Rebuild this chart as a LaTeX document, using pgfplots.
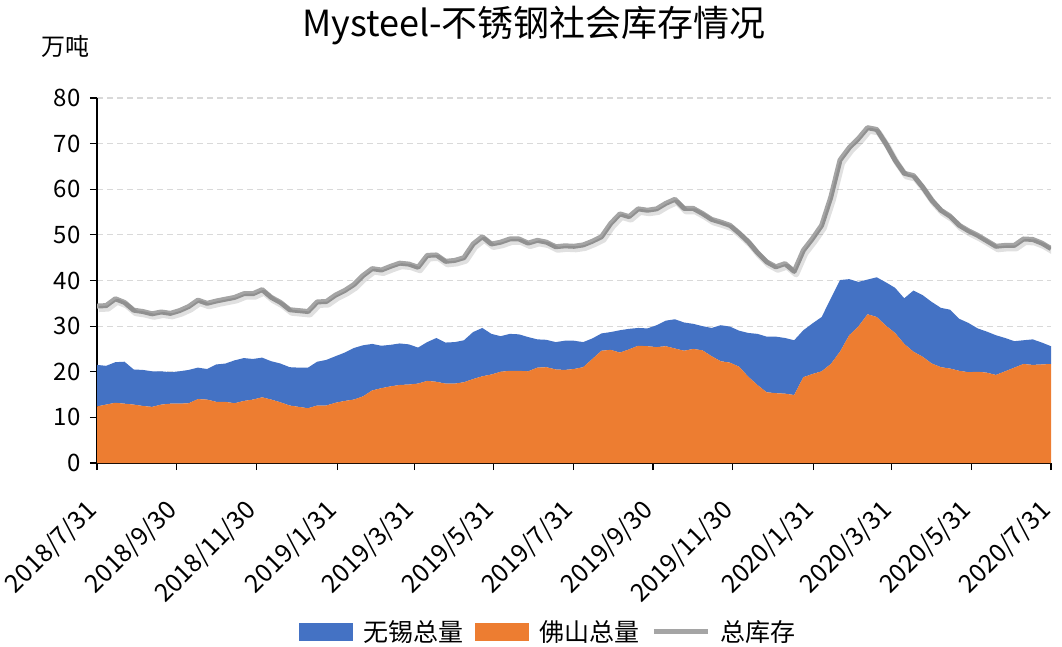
\documentclass[border=0pt]{standalone}
\usepackage{fontspec}
\setmainfont{Noto Sans CJK SC}
\usepackage{pgfplots}
\usepackage{pgfplotstable}
\pgfplotsset{compat=1.18}
\definecolor{wxblue}{HTML}{4472C4}
\definecolor{fsorange}{HTML}{ED7D31}
\definecolor{totgray}{HTML}{A5A5A5}
\pgfplotsset{
    boxleg/.style={legend image code/.code={\fill[##1] (0pt,-9pt) rectangle (54pt,9pt);}},
    lineleg/.style={legend image code/.code={\draw[##1] (0pt,0pt) -- (54pt,0pt);}},
}

% weekly data, k = week index (2018/7/31 .. 2020/7/31)
\pgfplotstableread{
k foshan wuxi total
0 12.4 9.1 34.4
1 12.8 8.5 34.5
2 13.2 8.9 36.0
3 13.0 9.2 35.2
4 12.8 7.7 33.5
5 12.5 7.9 33.2
6 12.3 7.8 32.7
7 12.8 7.3 33.1
8 13.0 6.9 32.8
9 13.0 7.1 33.4
10 13.1 7.3 34.3
11 14.0 6.9 35.7
12 13.9 6.7 35.0
13 13.4 8.2 35.5
14 13.4 8.4 35.9
15 13.1 9.4 36.3
16 13.6 9.4 37.1
17 13.9 8.9 37.1
18 14.4 8.7 38.0
19 13.9 8.4 36.3
20 13.3 8.5 35.2
21 12.6 8.4 33.6
22 12.3 8.6 33.4
23 12.0 8.9 33.2
24 12.6 9.6 35.3
25 12.6 10.0 35.4
26 13.2 10.2 36.8
27 13.6 10.6 37.8
28 13.9 11.3 39.1
29 14.6 11.2 41.1
30 15.9 10.2 42.6
31 16.4 9.3 42.3
32 16.8 9.1 43.1
33 17.1 9.1 43.8
34 17.2 8.8 43.6
35 17.4 7.9 42.9
36 18.0 8.5 45.5
37 17.8 9.6 45.6
38 17.4 9.0 44.2
39 17.4 9.1 44.4
40 17.7 9.2 45.0
41 18.4 10.3 48.0
42 19.0 10.6 49.6
43 19.4 8.9 48.0
44 20.0 7.8 48.4
45 20.2 8.1 49.1
46 20.2 8.0 49.1
47 20.1 7.5 48.2
48 20.9 6.2 48.8
49 21.0 6.0 48.4
50 20.5 6.0 47.4
51 20.4 6.4 47.6
52 20.6 6.2 47.5
53 21.0 5.5 47.8
54 22.8 4.5 48.6
55 24.6 3.8 49.6
56 24.8 3.9 52.5
57 24.2 4.9 54.6
58 24.9 4.5 54.0
59 25.7 3.9 55.7
60 25.6 3.9 55.4
61 25.4 4.8 55.7
62 25.6 5.6 56.9
63 25.1 6.4 57.8
64 24.6 6.2 55.8
65 25.0 5.5 55.8
66 24.7 5.3 54.7
67 23.4 6.2 53.4
68 22.3 7.9 52.8
69 22.0 7.9 52.1
70 21.1 7.9 50.4
71 18.9 9.6 48.5
72 17.1 11.2 46.1
73 15.5 12.2 44.1
74 15.3 12.4 43.0
75 15.2 12.2 43.7
76 14.9 12.0 42.0
77 18.8 10.3 46.6
78 19.5 11.1 49.2
79 20.1 11.9 52.1
80 21.7 14.4 58.3
81 24.4 15.7 66.4
82 28.0 12.3 69.1
83 29.9 9.8 71.1
84 32.6 7.6 73.5
85 32.0 8.7 73.1
86 30.1 9.5 70.0
87 28.5 9.9 66.4
88 26.1 10.0 63.5
89 24.4 13.4 63.0
90 23.3 13.5 60.5
91 21.8 13.5 57.6
92 21.0 13.0 55.4
93 20.7 12.9 54.1
94 20.2 11.4 52.1
95 19.9 10.8 50.9
96 20.0 9.5 49.9
97 19.8 9.0 48.7
98 19.3 8.7 47.5
99 20.1 7.3 47.7
100 20.9 5.8 47.7
101 21.7 5.2 49.1
102 21.5 5.6 49.0
103 21.6 4.8 48.2
104 21.7 3.9 47.0
}\stockdata

\begin{document}
\begin{tikzpicture}
\path[use as bounding box] (0,0) rectangle (1062pt,646pt);
\node[font=\fontsize{36}{38}\selectfont] at (534pt,620pt) {Mysteel-不锈钢社会库存情况};
\node[font=\fontsize{24}{26}\selectfont] at (65pt,600pt) {万吨};
\begin{axis}[
    at={(97pt,183pt)}, anchor=south west,
    scale only axis, width=954pt, height=365pt,
    xmin=0, xmax=104, ymin=0, ymax=80,
    axis x line*=bottom, axis y line*=left,
    axis line style={black, line width=1.2pt},
    tick style={black, line width=1.2pt},
    major tick length=7pt, tick align=outside,
    ytick={0,10,...,80},
    ymajorgrids, grid style={black!15, line width=1.2pt, dash pattern=on 6pt off 4pt},
    xtick={0,8.68,17.36,26.18,34.57,43.25,51.93,60.61,69.29,78.11,86.64,95.32,104},
    xticklabels={2018/7/31,2018/9/30,2018/11/30,2019/1/31,2019/3/31,2019/5/31,2019/7/31,2019/9/30,2019/11/30,2020/1/31,2020/3/31,2020/5/31,2020/7/31},
    x tick label style={xshift=-4pt, yshift=-36pt, rotate=45, anchor=east, inner sep=0pt, font=\fontsize{25}{27}\selectfont},
    y tick label style={font=\fontsize{24}{26}\selectfont, xshift=-6pt},
    /pgf/number format/assume math mode=true,
    stack plots=y,
    legend columns=3,
    legend style={at={(0.473,-0.463)}, anchor=center, draw=none,
        font=\fontsize{25}{27}\selectfont,
        /tikz/every odd column/.append style={column sep=8pt},
        /tikz/every even column/.append style={column sep=10pt}},
]
\addlegendimage{boxleg, fill=wxblue, draw=none}
\addlegendentry{无锡总量}
\addlegendimage{boxleg, fill=fsorange, draw=none}
\addlegendentry{佛山总量}
\addlegendimage{lineleg, totgray, line width=5pt}
\addlegendentry{总库存}
\addplot[forget plot, fill=fsorange, draw=none] table[x=k, y=foshan] {\stockdata} \closedcycle;
\addplot[forget plot, fill=wxblue, draw=none] table[x=k, y=wuxi] {\stockdata} \closedcycle;
\addplot[forget plot, stack plots=false, draw=black, opacity=0.12, line width=6pt, line join=round, xshift=2pt, yshift=-3pt] table[x=k, y=total] {\stockdata};
\addplot[forget plot, stack plots=false, draw=totgray, line width=5pt, line join=round] table[x=k, y=total] {\stockdata};
\draw[black, line width=1.2pt] (axis cs:0,0) -- (axis cs:0,80);
\draw[black, line width=1.2pt] (axis cs:0,0) -- (axis cs:104,0);
\end{axis}
\end{tikzpicture}
\end{document}
